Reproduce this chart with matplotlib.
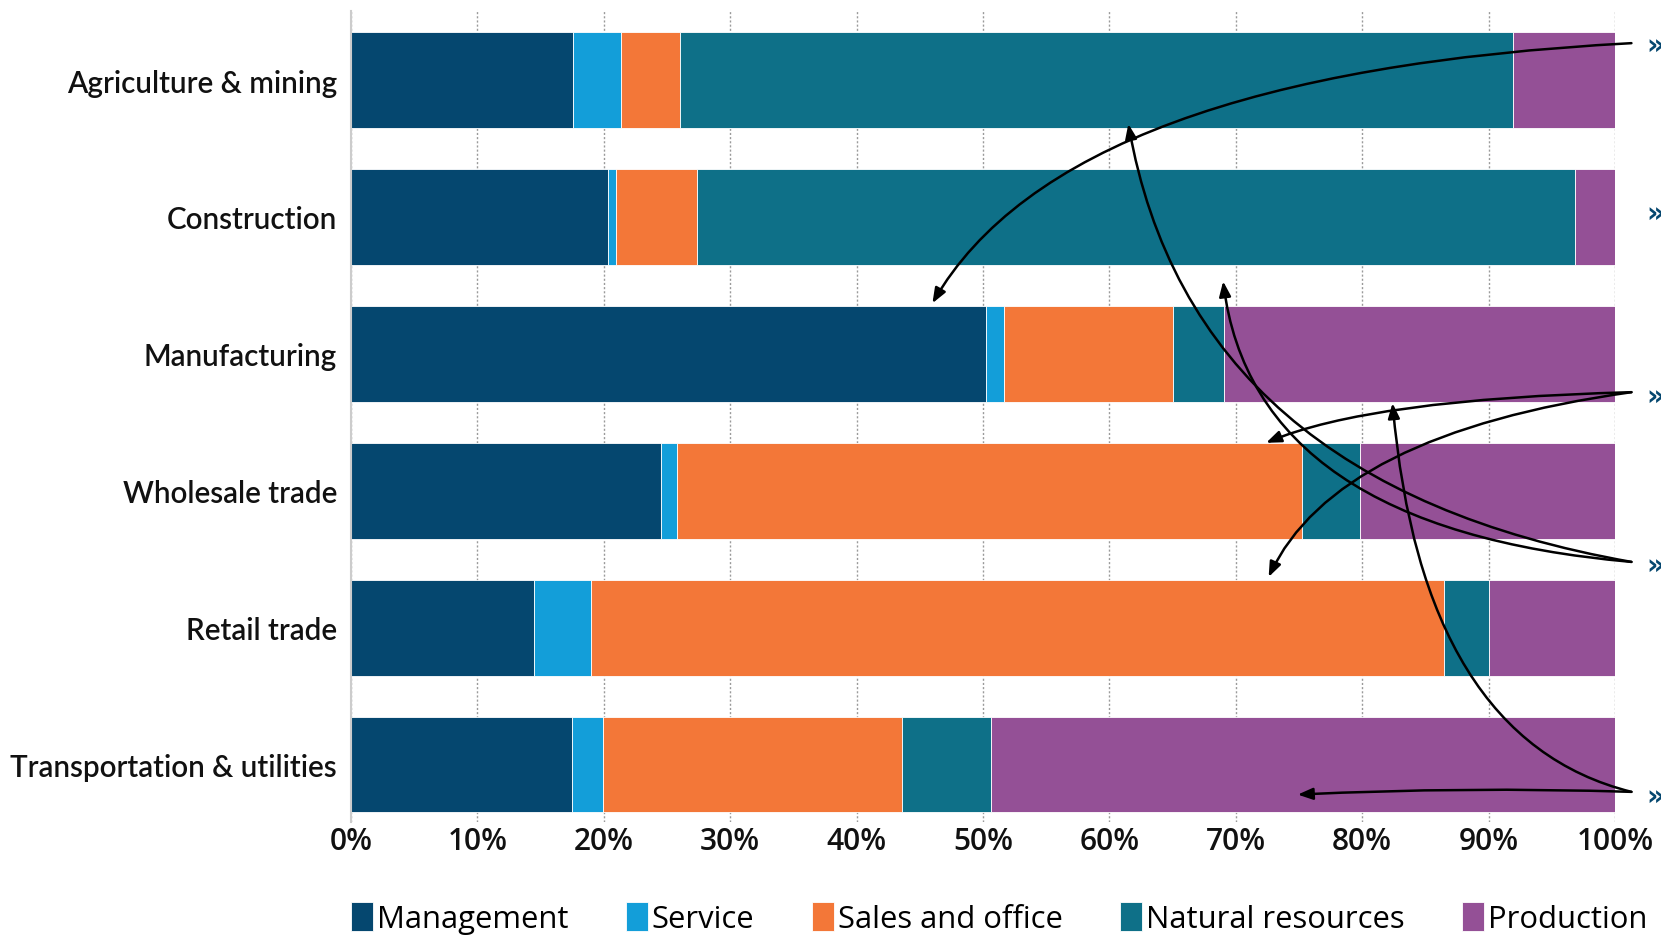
import matplotlib
matplotlib.use("Agg")
import matplotlib.pyplot as plt
import numpy as np

# Данi
categories = ["Agriculture & mining", "Construction", "Manufacturing",
              "Wholesale trade", "Retail trade", "Transportation & utilities"]
series = ["Management", "Service", "Sales and office", "Natural resources", "Production"]
management = [17.6, 20.3, 50.2, 24.5, 14.5, 17.5]
service = [3.8, 0.7, 1.5, 1.3, 4.5, 2.4]
sales_office = [4.6, 6.4, 13.3, 49.4, 67.5, 23.7]
natural_resources = [65.9, 69.4, 4.1, 4.6, 3.5, 7.0]
production = [8.1, 3.2, 30.9, 20.2, 10.0, 49.4]
colors = ["#05476f", "#139ed9", "#f37738", "#0e7088", "#945096"]
x_ticks = [0, 10, 20, 30, 40, 50, 60, 70, 80, 90, 100]

# Стрiлки: (початок x, y) -> (кiнець x, y), кути кривої
arrow_starts = [(101.3, -0.27), (101.3, 2.28), (101.3, 2.28), (101.3, 3.52),
                (101.3, 3.52), (101.3, 5.20), (101.3, 5.20)]
arrow_ends = [(46.0, 1.63), (72.4, 2.65), (72.6, 3.63), (61.5, 0.32),
              (69.0, 1.47), (74.9, 5.22), (82.4, 2.36)]
arrow_styles = ["angle3,angleA=3,angleB=60", "angle3,angleA=1.5,angleB=23",
                "angle3,angleA=8,angleB=65", "angle3,angleA=-10,angleB=100",
                "angle3,angleA=-5,angleB=97", "arc3,rad=0.02",
                "angle3,angleA=-14,angleB=95"]
marker_y = [-0.26, 0.97, 2.31, 3.54, 5.23]

fig = plt.figure(figsize=(16.61, 9.37), dpi=100)
ax = fig.add_axes([0.2113, 0.1217, 0.7610, 0.8655])

values = [management, service, sales_office, natural_resources, production]
y = np.arange(len(categories))
left = np.zeros(len(categories))
for name, vals, c in zip(series, values, colors):
    ax.barh(y, vals, left=left, height=0.70, color=c, label=name,
            edgecolor="white", linewidth=0.6, zorder=2)
    left += np.array(vals)

ax.set_xlim(0, 100)
ax.set_ylim(5.42, -0.505)
ax.set_yticks(y)
ax.set_yticklabels(categories, fontsize=21.3, family="Lato", fontweight="semibold", color="#111")
ax.set_xticks(x_ticks)
ax.set_xticklabels([f"{t}%" for t in x_ticks], fontsize=21.5, family="Open Sans",
                   fontweight="semibold", color="#111")
ax.tick_params(axis="both", length=0)
ax.tick_params(axis="y", pad=10)
ax.tick_params(axis="x", pad=3)
ax.xaxis.grid(True, linestyle=(0, (1.5, 1.5)), color="#9a9a9a", linewidth=1.0, zorder=0)
ax.set_axisbelow(True)
for s in ["top", "right", "bottom"]:
    ax.spines[s].set_visible(False)
ax.spines["left"].set_color("#cccccc")
ax.spines["left"].set_linewidth(1.5)

# Стрiлки та позначки
for (x0, y0), (x1, y1), cs in zip(arrow_starts, arrow_ends, arrow_styles):
    ax.annotate("", xy=(x1, y1), xytext=(x0, y0), annotation_clip=False,
                arrowprops=dict(arrowstyle="-|>,head_length=0.9,head_width=0.35",
                                connectionstyle=cs, color="black", lw=1.8,
                                shrinkA=0, shrinkB=0))
for my in marker_y:
    ax.text(102.5, my, "»", fontsize=20, color="#05476f", ha="left", va="center",
            family="DejaVu Sans", fontweight="bold", clip_on=False)

leg = fig.legend(loc="center left", bbox_to_anchor=(0.2113, 0.019), ncol=5,
                 frameon=False, prop={"family": "Open Sans", "size": 22.3},
                 handlelength=0.72, handleheight=1.05, handletextpad=0.12,
                 columnspacing=1.85, borderaxespad=0, borderpad=0)

fig.savefig("out.png", dpi=100)
